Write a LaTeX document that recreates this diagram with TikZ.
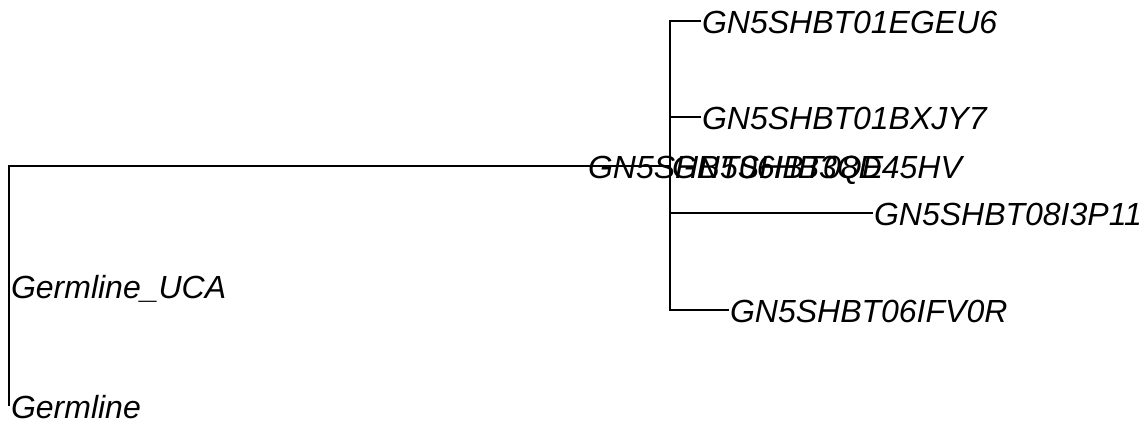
\documentclass[tikz,border=0pt]{standalone}
\usepackage{fontspec}
\setmainfont{Liberation Sans}
\begin{document}
\begin{tikzpicture}[x=1pt,y=-1pt,
  branch/.style={line width=1.9pt,line cap=rect},
  tip/.style={anchor=base west,inner sep=0pt,outer sep=0pt,font=\fontsize{32}{38}\selectfont\itshape}]
\useasboundingbox (0,0) rectangle (1147,423);
% internal nodes
\coordinate (root) at (9,166);
\coordinate (rootTop) at (9,166);
\coordinate (rootBot) at (9,405);
\coordinate (n1) at (670,166);
\coordinate (n1Top) at (670,21);
\coordinate (n1Bot) at (670,310);
% branch starts and tips
\coordinate (t1) at (700,21);
\coordinate (t2) at (700,117);
\coordinate (t3) at (872,213);
\coordinate (t4) at (728,310);
\coordinate (b1) at (670,21);
\coordinate (b2) at (670,117);
\coordinate (b3) at (670,213);
\coordinate (b4) at (670,310);
% branches
\draw[branch] (rootTop) -- (rootBot);
\draw[branch] (root) -- (n1);
\draw[branch] (n1Top) -- (n1Bot);
\draw[branch] (b1) -- (t1);
\draw[branch] (b2) -- (t2);
\draw[branch] (b3) -- (t3);
\draw[branch] (b4) -- (t4);
% labels
\node[tip] (l1) at (702,33) {GN5SHBT01EGEU6};
\node[tip] (l2) at (702,129) {GN5SHBT01BXJY7};
\node[tip] (lA) at (588,178) {GN5SHBT06HB3QE};
\node[tip] (lB) at (672,178) {GN5SHBT08D45HV};
\node[tip] (l3) at (874,225) {GN5SHBT08I3P11};
\node[tip] (l4) at (730,322) {GN5SHBT06IFV0R};
\node[tip] (lUCA) at (11,298) {Germline\_UCA};
\node[tip] (lGerm) at (11,418) {Germline};
\end{tikzpicture}
\end{document}
